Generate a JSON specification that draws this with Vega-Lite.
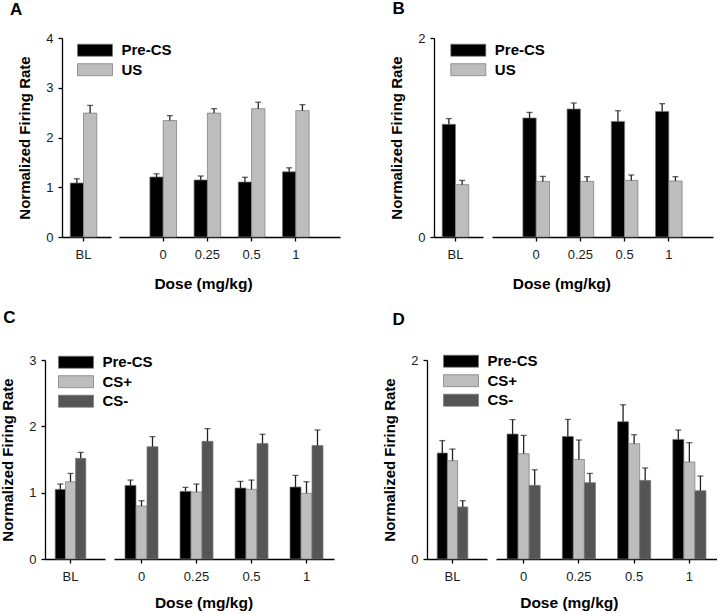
{
"$schema": "https://vega.github.io/schema/vega-lite/v6.json",
"background": "white",
"padding": {"left": 0, "top": 0, "right": 0, "bottom": 0},
"autosize": {"type": "pad"},
"datasets": {
"A": [
{"dose": "BL", "series": "Pre-CS", "value": 1.085, "hi": 1.17},
{"dose": "BL", "series": "US", "value": 2.49, "hi": 2.645},
{"dose": "0", "series": "Pre-CS", "value": 1.206, "hi": 1.27},
{"dose": "0", "series": "US", "value": 2.34, "hi": 2.44},
{"dose": "0.25", "series": "Pre-CS", "value": 1.146, "hi": 1.226},
{"dose": "0.25", "series": "US", "value": 2.49, "hi": 2.58},
{"dose": "0.5", "series": "Pre-CS", "value": 1.105, "hi": 1.2},
{"dose": "0.5", "series": "US", "value": 2.58, "hi": 2.71},
{"dose": "1", "series": "Pre-CS", "value": 1.31, "hi": 1.39},
{"dose": "1", "series": "US", "value": 2.54, "hi": 2.66}
],
"B": [
{"dose": "BL", "series": "Pre-CS", "value": 1.132, "hi": 1.19},
{"dose": "BL", "series": "US", "value": 0.526, "hi": 0.569},
{"dose": "0", "series": "Pre-CS", "value": 1.196, "hi": 1.252},
{"dose": "0", "series": "US", "value": 0.559, "hi": 0.609},
{"dose": "0.25", "series": "Pre-CS", "value": 1.286, "hi": 1.347},
{"dose": "0.25", "series": "US", "value": 0.559, "hi": 0.606},
{"dose": "0.5", "series": "Pre-CS", "value": 1.162, "hi": 1.269},
{"dose": "0.5", "series": "US", "value": 0.569, "hi": 0.623},
{"dose": "1", "series": "Pre-CS", "value": 1.262, "hi": 1.34},
{"dose": "1", "series": "US", "value": 0.563, "hi": 0.606}
],
"C": [
{"dose": "BL", "series": "Pre-CS", "value": 1.049, "hi": 1.13},
{"dose": "BL", "series": "CS+", "value": 1.165, "hi": 1.29},
{"dose": "BL", "series": "CS-", "value": 1.517, "hi": 1.607},
{"dose": "0", "series": "Pre-CS", "value": 1.11, "hi": 1.19},
{"dose": "0", "series": "CS+", "value": 0.799, "hi": 0.879},
{"dose": "0", "series": "CS-", "value": 1.693, "hi": 1.844},
{"dose": "0.25", "series": "Pre-CS", "value": 1.02, "hi": 1.08},
{"dose": "0.25", "series": "CS+", "value": 1.01, "hi": 1.13},
{"dose": "0.25", "series": "CS-", "value": 1.774, "hi": 1.965},
{"dose": "0.5", "series": "Pre-CS", "value": 1.07, "hi": 1.17},
{"dose": "0.5", "series": "CS+", "value": 1.05, "hi": 1.19},
{"dose": "0.5", "series": "CS-", "value": 1.74, "hi": 1.88},
{"dose": "1", "series": "Pre-CS", "value": 1.085, "hi": 1.26},
{"dose": "1", "series": "CS+", "value": 0.99, "hi": 1.165},
{"dose": "1", "series": "CS-", "value": 1.71, "hi": 1.945}
],
"D": [
{"dose": "BL", "series": "Pre-CS", "value": 1.065, "hi": 1.19},
{"dose": "BL", "series": "CS+", "value": 0.988, "hi": 1.105},
{"dose": "BL", "series": "CS-", "value": 0.523, "hi": 0.586},
{"dose": "0", "series": "Pre-CS", "value": 1.256, "hi": 1.4},
{"dose": "0", "series": "CS+", "value": 1.058, "hi": 1.242},
{"dose": "0", "series": "CS-", "value": 0.74, "hi": 0.897},
{"dose": "0.25", "series": "Pre-CS", "value": 1.232, "hi": 1.403},
{"dose": "0.25", "series": "CS+", "value": 1.001, "hi": 1.196},
{"dose": "0.25", "series": "CS-", "value": 0.767, "hi": 0.86},
{"dose": "0.5", "series": "Pre-CS", "value": 1.38, "hi": 1.55},
{"dose": "0.5", "series": "CS+", "value": 1.159, "hi": 1.249},
{"dose": "0.5", "series": "CS-", "value": 0.79, "hi": 0.915},
{"dose": "1", "series": "Pre-CS", "value": 1.202, "hi": 1.296},
{"dose": "1", "series": "CS+", "value": 0.975, "hi": 1.169},
{"dose": "1", "series": "CS-", "value": 0.686, "hi": 0.834}
]
},
"config": {
"view": {"stroke": null},
"font": "Liberation Sans",
"axis": {"grid": false, "domainColor": "#000", "domainWidth": 1.3, "tickColor": "#000", "tickWidth": 1.3, "tickSize": 4, "labelFont": "Liberation Sans", "labelFontSize": 13, "labelColor": "#1a1a1a", "labelPadding": 5, "titleFont": "Liberation Sans", "titleFontSize": 15, "titleFontWeight": "bold", "titleColor": "#000"},
"axisX": {"labelAngle": 0, "labelPadding": 7.5},
"legend": {"orient": "none", "padding": 0, "symbolType": "M-1.75,-0.6H1.75V0.6H-1.75Z", "symbolSize": 400, "symbolStrokeColor": "#777", "symbolStrokeWidth": 0.7, "labelFont": "Liberation Sans", "labelFontSize": 15, "labelFontWeight": "bold", "labelColor": "#000", "labelOffset": 16, "rowPadding": 0.5, "labelLimit": 200},
"title": {"font": "Liberation Sans", "fontSize": 17, "fontWeight": "bold", "color": "#000", "anchor": "start", "frame": "group", "baseline": "alphabetic"}
},
"spacing": 17,
"resolve": {"scale": {"fill": "independent", "xOffset": "independent", "x": "independent", "y": "independent"}},
"vconcat": [
{
"bounds": "flush",
"spacing": 0,
"resolve": {"scale": {"fill": "independent", "xOffset": "independent", "x": "independent", "y": "independent"}},
"hconcat": [
{"width": 17, "height": 199, "data": {"values": [{"k": 1}]}, "mark": {"type": "point", "opacity": 0}, "encoding": {}},
{
"width": 49, "height": 199,
"data": {"name": "A"},
"transform": [{"filter": "datum.dose === 'BL'"}],
"title": {"text": "A", "dx": -52, "offset": 13.3},
"encoding": {
"x": {"field": "dose", "type": "nominal", "scale": {"domain": ["BL"], "paddingInner": 0, "paddingOuter": 0.07, "align": 0}, "axis": {"title": null}},
"xOffset": {"field": "series", "type": "nominal", "scale": {"domain": ["Pre-CS", "US"], "paddingInner": 0, "paddingOuter": 0.62}}
},
"layer": [
{"mark": {"type": "bar", "stroke": "#777", "strokeWidth": 0.7},
"encoding": {
"y": {"field": "value", "type": "quantitative", "scale": {"domain": [0, 4], "nice": false}, "axis": {"values": [0, 1, 2, 3, 4], "format": "d", "title": "Normalized Firing Rate", "titleX": -37.5, "titleY": 99.5, "titleAngle": -90, "titleAlign": "center", "titleBaseline": "middle"}},
"fill": {"field": "series", "type": "nominal", "scale": {"domain": ["Pre-CS", "US"], "range": ["#000000", "#bdbdbd"]}, "legend": {"title": null, "legendX": 22.5, "legendY": 1.7}}
}},
{"mark": {"type": "rule", "color": "#222", "strokeWidth": 1.3}, "encoding": {"y": {"field": "value", "type": "quantitative"}, "y2": {"field": "hi"}}},
{"mark": {"type": "tick", "color": "#222", "thickness": 1.3, "size": 6}, "encoding": {"y": {"field": "hi", "type": "quantitative"}}}
]
},
{"width": 8, "height": 199, "data": {"values": [{"k": 1}]}, "mark": {"type": "point", "opacity": 0}, "encoding": {}},
{
"width": 221, "height": 199,
"data": {"name": "A"},
"transform": [{"filter": "datum.dose !== 'BL'"}],
"encoding": {
"x": {"field": "dose", "type": "nominal", "scale": {"domain": ["0", "0.25", "0.5", "1"], "paddingInner": 0, "paddingOuter": 0.5}, "axis": {"title": "Dose (mg/kg)", "titleX": 84, "titleY": 51.5, "titleAlign": "center", "titleBaseline": "alphabetic", "titleFontSize": 15.5}},
"xOffset": {"field": "series", "type": "nominal", "scale": {"domain": ["Pre-CS", "US"], "paddingInner": 0, "paddingOuter": 0.66}}
},
"layer": [
{"mark": {"type": "bar", "stroke": "#777", "strokeWidth": 0.7},
"encoding": {
"y": {"field": "value", "type": "quantitative", "scale": {"domain": [0, 4], "nice": false}, "axis": null},
"fill": {"field": "series", "type": "nominal", "scale": {"domain": ["Pre-CS", "US"], "range": ["#000000", "#bdbdbd"]}, "legend": null}
}},
{"mark": {"type": "rule", "color": "#222", "strokeWidth": 1.3}, "encoding": {"y": {"field": "value", "type": "quantitative", "axis": null}, "y2": {"field": "hi"}}},
{"mark": {"type": "tick", "color": "#222", "thickness": 1.3, "size": 6}, "encoding": {"y": {"field": "hi", "type": "quantitative", "axis": null}}}
]
},
{"width": 94, "height": 199, "data": {"values": [{"k": 1}]}, "mark": {"type": "point", "opacity": 0}, "encoding": {}},
{
"width": 49, "height": 199,
"data": {"name": "B"},
"transform": [{"filter": "datum.dose === 'BL'"}],
"title": {"text": "B", "dx": -41.5, "offset": 14},
"encoding": {
"x": {"field": "dose", "type": "nominal", "scale": {"domain": ["BL"], "paddingInner": 0, "paddingOuter": 0.07, "align": 0}, "axis": {"title": null}},
"xOffset": {"field": "series", "type": "nominal", "scale": {"domain": ["Pre-CS", "US"], "paddingInner": 0, "paddingOuter": 0.62}}
},
"layer": [
{"mark": {"type": "bar", "stroke": "#777", "strokeWidth": 0.7},
"encoding": {
"y": {"field": "value", "type": "quantitative", "scale": {"domain": [0, 2], "nice": false}, "axis": {"values": [0, 1, 2], "format": "d", "title": "Normalized Firing Rate", "titleX": -37.5, "titleY": 99.5, "titleAngle": -90, "titleAlign": "center", "titleBaseline": "middle"}},
"fill": {"field": "series", "type": "nominal", "scale": {"domain": ["Pre-CS", "US"], "range": ["#000000", "#bdbdbd"]}, "legend": {"title": null, "legendX": 23.8, "legendY": 1.7}}
}},
{"mark": {"type": "rule", "color": "#222", "strokeWidth": 1.3}, "encoding": {"y": {"field": "value", "type": "quantitative"}, "y2": {"field": "hi"}}},
{"mark": {"type": "tick", "color": "#222", "thickness": 1.3, "size": 6}, "encoding": {"y": {"field": "hi", "type": "quantitative"}}}
]
},
{"width": 9, "height": 199, "data": {"values": [{"k": 1}]}, "mark": {"type": "point", "opacity": 0}, "encoding": {}},
{
"width": 221, "height": 199,
"data": {"name": "B"},
"transform": [{"filter": "datum.dose !== 'BL'"}],
"encoding": {
"x": {"field": "dose", "type": "nominal", "scale": {"domain": ["0", "0.25", "0.5", "1"], "paddingInner": 0, "paddingOuter": 0.5}, "axis": {"title": "Dose (mg/kg)", "titleX": 69.3, "titleY": 51.5, "titleAlign": "center", "titleBaseline": "alphabetic", "titleFontSize": 15.5}},
"xOffset": {"field": "series", "type": "nominal", "scale": {"domain": ["Pre-CS", "US"], "paddingInner": 0, "paddingOuter": 0.66}}
},
"layer": [
{"mark": {"type": "bar", "stroke": "#777", "strokeWidth": 0.7},
"encoding": {
"y": {"field": "value", "type": "quantitative", "scale": {"domain": [0, 2], "nice": false}, "axis": null},
"fill": {"field": "series", "type": "nominal", "scale": {"domain": ["Pre-CS", "US"], "range": ["#000000", "#bdbdbd"]}, "legend": null}
}},
{"mark": {"type": "rule", "color": "#222", "strokeWidth": 1.3}, "encoding": {"y": {"field": "value", "type": "quantitative", "axis": null}, "y2": {"field": "hi"}}},
{"mark": {"type": "tick", "color": "#222", "thickness": 1.3, "size": 6}, "encoding": {"y": {"field": "hi", "type": "quantitative", "axis": null}}}
]
}
]
},
{
"bounds": "flush",
"spacing": 0,
"resolve": {"scale": {"fill": "independent", "xOffset": "independent", "x": "independent", "y": "independent"}},
"hconcat": [
{
"width": 60, "height": 199,
"data": {"name": "C"},
"transform": [{"filter": "datum.dose === 'BL'"}],
"title": {"text": "C", "dx": -41.7, "offset": 24.6},
"encoding": {
"x": {"field": "dose", "type": "nominal", "scale": {"domain": ["BL"], "paddingInner": 0, "paddingOuter": 0.088, "align": 0}, "axis": {"title": null}},
"xOffset": {"field": "series", "type": "nominal", "scale": {"domain": ["Pre-CS", "CS+", "CS-"], "paddingInner": 0, "paddingOuter": 1.05}}
},
"layer": [
{"mark": {"type": "bar", "stroke": "#777", "strokeWidth": 0.7},
"encoding": {
"y": {"field": "value", "type": "quantitative", "scale": {"domain": [0, 3], "nice": false}, "axis": {"values": [0, 1, 2, 3], "format": "d", "title": "Normalized Firing Rate", "titleX": -37.5, "titleY": 99.5, "titleAngle": -90, "titleAlign": "center", "titleBaseline": "middle"}},
"fill": {"field": "series", "type": "nominal", "scale": {"domain": ["Pre-CS", "CS+", "CS-"], "range": ["#000000", "#bdbdbd", "#555555"]}, "legend": {"title": null, "legendX": 20.5, "legendY": -8.3}}
}},
{"mark": {"type": "rule", "color": "#222", "strokeWidth": 1.3}, "encoding": {"y": {"field": "value", "type": "quantitative"}, "y2": {"field": "hi"}}},
{"mark": {"type": "tick", "color": "#222", "thickness": 1.3, "size": 6}, "encoding": {"y": {"field": "hi", "type": "quantitative"}}}
]
},
{"width": 9, "height": 199, "data": {"values": [{"k": 1}]}, "mark": {"type": "point", "opacity": 0}, "encoding": {}},
{
"width": 220, "height": 199,
"data": {"name": "C"},
"transform": [{"filter": "datum.dose !== 'BL'"}],
"encoding": {
"x": {"field": "dose", "type": "nominal", "scale": {"domain": ["0", "0.25", "0.5", "1"], "paddingInner": 0, "paddingOuter": 0}, "axis": {"title": "Dose (mg/kg)", "titleX": 89.5, "titleY": 48, "titleAlign": "center", "titleBaseline": "alphabetic", "titleFontSize": 15.5}},
"xOffset": {"field": "series", "type": "nominal", "scale": {"domain": ["Pre-CS", "CS+", "CS-"], "paddingInner": 0, "paddingOuter": 1.0}}
},
"layer": [
{"mark": {"type": "bar", "stroke": "#777", "strokeWidth": 0.7},
"encoding": {
"y": {"field": "value", "type": "quantitative", "scale": {"domain": [0, 3], "nice": false}, "axis": null},
"fill": {"field": "series", "type": "nominal", "scale": {"domain": ["Pre-CS", "CS+", "CS-"], "range": ["#000000", "#bdbdbd", "#555555"]}, "legend": null}
}},
{"mark": {"type": "rule", "color": "#222", "strokeWidth": 1.3}, "encoding": {"y": {"field": "value", "type": "quantitative", "axis": null}, "y2": {"field": "hi"}}},
{"mark": {"type": "tick", "color": "#222", "thickness": 1.3, "size": 6}, "encoding": {"y": {"field": "hi", "type": "quantitative", "axis": null}}}
]
},
{"width": 93, "height": 199, "data": {"values": [{"k": 1}]}, "mark": {"type": "point", "opacity": 0}, "encoding": {}},
{
"width": 60, "height": 199,
"data": {"name": "D"},
"transform": [{"filter": "datum.dose === 'BL'"}],
"title": {"text": "D", "dx": -34.5, "offset": 21.3},
"encoding": {
"x": {"field": "dose", "type": "nominal", "scale": {"domain": ["BL"], "paddingInner": 0, "paddingOuter": 0.088, "align": 0}, "axis": {"title": null}},
"xOffset": {"field": "series", "type": "nominal", "scale": {"domain": ["Pre-CS", "CS+", "CS-"], "paddingInner": 0, "paddingOuter": 1.05}}
},
"layer": [
{"mark": {"type": "bar", "stroke": "#777", "strokeWidth": 0.7},
"encoding": {
"y": {"field": "value", "type": "quantitative", "scale": {"domain": [0, 2], "nice": false}, "axis": {"values": [0, 1, 2], "format": "d", "title": "Normalized Firing Rate", "titleX": -37.5, "titleY": 99.5, "titleAngle": -90, "titleAlign": "center", "titleBaseline": "middle"}},
"fill": {"field": "series", "type": "nominal", "scale": {"domain": ["Pre-CS", "CS+", "CS-"], "range": ["#000000", "#bdbdbd", "#555555"]}, "legend": {"title": null, "legendX": 23.5, "legendY": -9.3}}
}},
{"mark": {"type": "rule", "color": "#222", "strokeWidth": 1.3}, "encoding": {"y": {"field": "value", "type": "quantitative"}, "y2": {"field": "hi"}}},
{"mark": {"type": "tick", "color": "#222", "thickness": 1.3, "size": 6}, "encoding": {"y": {"field": "hi", "type": "quantitative"}}}
]
},
{"width": 9, "height": 199, "data": {"values": [{"k": 1}]}, "mark": {"type": "point", "opacity": 0}, "encoding": {}},
{
"width": 221, "height": 199,
"data": {"name": "D"},
"transform": [{"filter": "datum.dose !== 'BL'"}],
"encoding": {
"x": {"field": "dose", "type": "nominal", "scale": {"domain": ["0", "0.25", "0.5", "1"], "paddingInner": 0, "paddingOuter": 0}, "axis": {"title": "Dose (mg/kg)", "titleX": 72.8, "titleY": 48, "titleAlign": "center", "titleBaseline": "alphabetic", "titleFontSize": 15.5}},
"xOffset": {"field": "series", "type": "nominal", "scale": {"domain": ["Pre-CS", "CS+", "CS-"], "paddingInner": 0, "paddingOuter": 1.0}}
},
"layer": [
{"mark": {"type": "bar", "stroke": "#777", "strokeWidth": 0.7},
"encoding": {
"y": {"field": "value", "type": "quantitative", "scale": {"domain": [0, 2], "nice": false}, "axis": null},
"fill": {"field": "series", "type": "nominal", "scale": {"domain": ["Pre-CS", "CS+", "CS-"], "range": ["#000000", "#bdbdbd", "#555555"]}, "legend": null}
}},
{"mark": {"type": "rule", "color": "#222", "strokeWidth": 1.3}, "encoding": {"y": {"field": "value", "type": "quantitative", "axis": null}, "y2": {"field": "hi"}}},
{"mark": {"type": "tick", "color": "#222", "thickness": 1.3, "size": 6}, "encoding": {"y": {"field": "hi", "type": "quantitative", "axis": null}}}
]
}
]
}
]
}
